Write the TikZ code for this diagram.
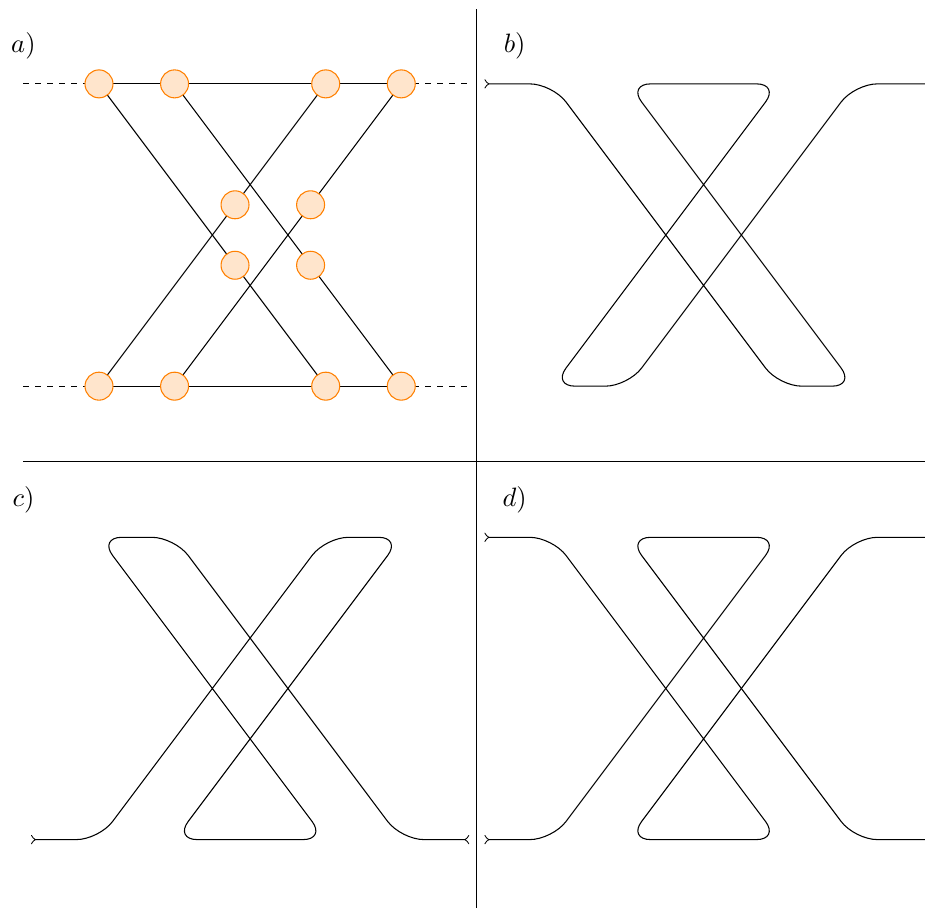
\documentclass[tikz,border=0pt]{standalone}
\begin{document}
\begin{tikzpicture}[
  dot/.style={circle, draw=orange, fill=orange!20, minimum size=0.37cm, inner sep=0pt},
  strand/.style={rounded corners=0.3cm},
  dashline/.style={dash pattern=on 2.25pt off 2.25pt},
  lbl/.style={inner sep=0pt}
]
\useasboundingbox (-1.31,-6.90) rectangle (10.93,5.11);
% dividers
\coordinate (vtop) at (5,4.99);
\coordinate (vbot) at (5,-6.90);
\coordinate (hl) at (-1,-1);
\coordinate (hr) at (10.93,-1);
\draw (vtop) -- (vbot);
\draw (hl) -- (hr);
% labels
\node[lbl] (la) at (-1,4.5) {$a)$};
\node[lbl] (lb) at (5.5,4.5) {$b)$};
\node[lbl] (lc) at (-1,-1.5) {$c)$};
\node[lbl] (ld) at (5.5,-1.5) {$d)$};
% panel a
\coordinate (T0) at (0,4); \coordinate (T1) at (1,4);
\coordinate (T3) at (3,4); \coordinate (T4) at (4,4);
\coordinate (B0) at (0,0); \coordinate (B1) at (1,0);
\coordinate (B3) at (3,0); \coordinate (B4) at (4,0);
\coordinate (M1) at (1.8,2.4); \coordinate (M2) at (2.8,2.4);
\coordinate (M3) at (1.8,1.6); \coordinate (M4) at (2.8,1.6);
\coordinate (TL) at (-1,4); \coordinate (TR) at (4.92,4);
\coordinate (BL) at (-1,0); \coordinate (BR) at (4.92,0);
\draw[dashline] (TL) -- (T0);
\draw[dashline] (T4) -- (TR);
\draw[dashline] (BL) -- (B0);
\draw[dashline] (B4) -- (BR);
\draw (T0) -- (T4);
\draw (B0) -- (B4);
\draw (T0) -- (B3);
\draw (T1) -- (B4);
\draw (T3) -- (B0);
\draw (T4) -- (B1);
\foreach \p in {T0,T1,T3,T4,B0,B1,B3,B4,M1,M2,M3,M4}
  \node[dot] (d\p) at (\p) {};
% panel b
\draw[strand, >-] (5.1,4) -- (6,4) -- (9,0) -- (10,0) -- (7,4) -- (9,4)
  -- (6,0) -- (7,0) -- (10,4) -- (10.93,4);
% panel c
\draw[strand, >-<] (-0.9,-6) -- (0,-6) -- (3,-2) -- (4,-2) -- (1,-6) -- (3,-6)
  -- (0,-2) -- (1,-2) -- (4,-6) -- (4.9,-6);
% panel d
\draw[strand, >-] (5.1,-2) -- (6,-2) -- (9,-6) -- (7,-6) -- (10,-2) -- (10.93,-2);
\draw[strand, >-] (5.1,-6) -- (6,-6) -- (9,-2) -- (7,-2) -- (10,-6) -- (10.93,-6);
\end{tikzpicture}
\end{document}
